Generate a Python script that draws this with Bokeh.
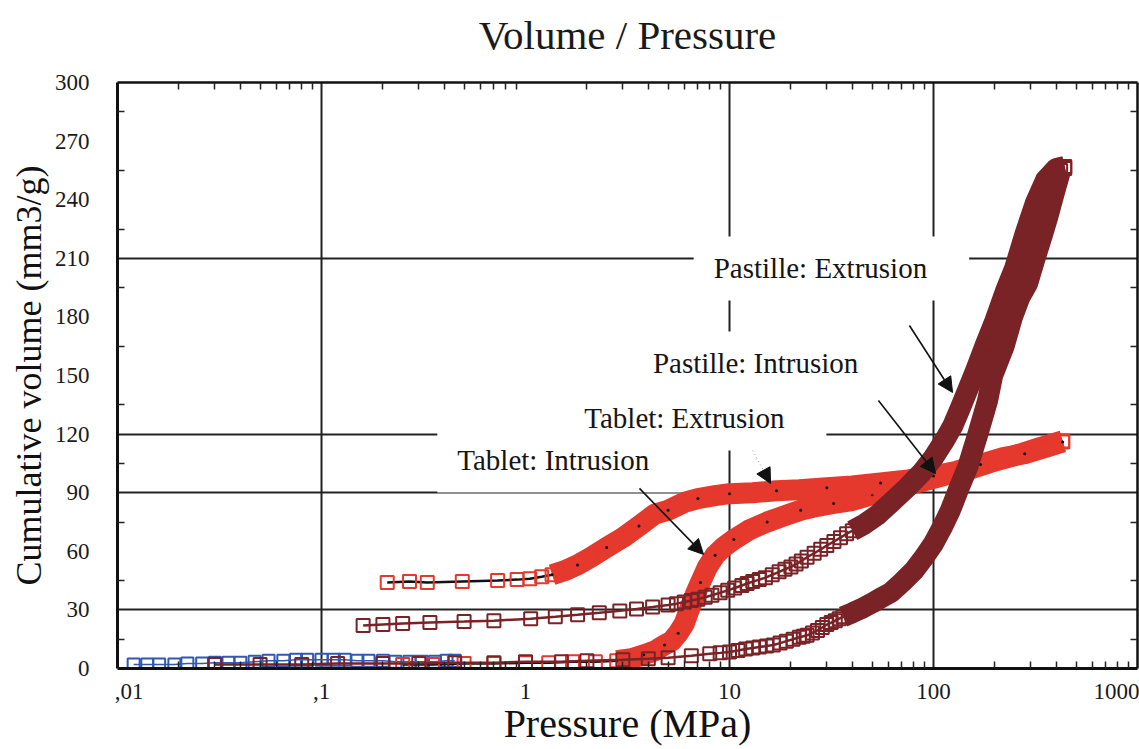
from bokeh.plotting import figure
from bokeh.models import LogAxis, LinearAxis, FixedTicker, Label, Arrow, NormalHead, Range1d
from bokeh.embed import file_html
from bokeh.resources import INLINE

SERIF = "Liberation Serif"

# ---- Mercury porosimetry data: pressure (MPa) / cumulative volume (mm3/g) ----
# low-pressure run
low_p = [0.012, 0.014, 0.016, 0.019, 0.022, 0.026, 0.03, 0.035, 0.04, 0.047, 0.055,
         0.065, 0.075, 0.085, 0.1, 0.115, 0.13, 0.15, 0.17, 0.2, 0.23, 0.27, 0.31,
         0.36, 0.41, 0.45]
low_v = [2, 2, 2, 2, 2.5, 2.5, 3, 3, 3, 3.5, 4, 4, 4.5, 4.5, 4.5, 4.5, 4.5, 4, 4,
         4, 3.5, 3.5, 3.5, 3.5, 4, 4]

# Tablet: intrusion
tab_in_p = [0.25, 0.35, 0.5, 0.7, 1.0, 1.3, 1.7, 2.2, 2.8, 3.3, 3.8, 4.3, 4.8, 5.2,
            5.6, 6.0, 6.4, 6.8, 7.2, 7.8, 8.5, 9.3, 10.5, 12.5, 15.3, 19, 22.3, 27,
            32.4, 40, 50, 62, 75, 90, 110, 140, 190, 250, 330, 430]
tab_in_v = [2, 2, 2.5, 2.5, 3, 3, 3.5, 3.5, 4, 5, 7, 9, 12, 14, 18, 23, 31, 38, 44,
            52, 58, 62, 66, 71, 75, 78.5, 81, 83, 84.5, 86, 89, 92, 94, 96, 98.5,
            101, 105.5, 109, 113, 116.5]

# Tablet: extrusion
tab_ex_p = [0.21, 0.27, 0.33, 0.49, 0.73, 0.91, 1.05, 1.2, 1.35, 1.55, 1.8, 2.1, 2.5,
            3.0, 3.6, 4.3, 5.0, 6.0, 7.0, 8.5, 10, 13, 17, 22, 30, 40, 55, 75, 100,
            130, 170, 220, 280, 350, 430]
tab_ex_v = [44, 44.5, 44, 44.5, 45, 45.5, 46, 47, 48, 50, 53, 57, 62, 67, 73, 79, 81,
            85, 87, 88.5, 89.5, 90, 91, 91.5, 92.5, 93.5, 95, 96.5, 98.5, 101, 104.5,
            108, 110, 113, 116]

# Pastille: intrusion
pas_in_p = [0.03, 0.05, 0.08, 0.12, 0.2, 0.3, 0.45, 0.7, 1.0, 1.5, 2.0, 3.0, 4.0, 5.0,
            6.5, 8.0, 9.0, 10, 11, 12, 13, 14, 15.2, 16.4, 17.7, 19, 20.5, 22, 23, 24,
            25.5, 27, 28.5, 30, 31.5, 33, 34.5, 36, 40, 45, 50, 55, 62, 70, 80, 90,
            100, 110, 121, 133, 147, 165, 184, 195, 222, 244, 265, 289, 315, 342, 363,
            390, 420, 440]
pas_in_v = [2, 2, 2, 2.5, 2.5, 2.5, 3, 3, 3.5, 3.5, 4, 4.5, 5, 5.5, 6.5, 7.5, 8, 8.5,
            9.2, 10, 10.5, 11, 11.5, 12, 13, 14, 15, 16, 16.5, 17, 18.2, 19.5, 21,
            22.5, 23.5, 24.5, 25.5, 26.5, 28.5, 31, 33.5, 36, 39, 44, 50, 57, 64, 72,
            81, 92, 103, 120, 137, 150, 165, 180, 190, 197, 210, 222, 231, 243, 255,
            256]

# Pastille: extrusion
pas_ex_p = [0.16, 0.2, 0.25, 0.34, 0.5, 0.7, 1.06, 1.4, 1.8, 2.3, 2.9, 3.5, 4.2, 5,
            5.5, 6, 6.5, 7, 7.6, 8.2, 9, 9.8, 10.6, 11.5, 12.2, 13, 14, 15, 16.2,
            17.5, 18.7, 20, 21.2, 22.5, 24, 26, 28, 30, 32.5, 35, 37.5, 40, 46, 53,
            62, 74, 87, 100, 112, 124, 135, 145, 160, 180, 200, 225, 250, 282, 315,
            354, 400, 440]
pas_ex_v = [22, 22.5, 23, 23.5, 24, 24.5, 25.5, 26.5, 27.5, 28.5, 29.5, 30.5, 31.5,
            32.5, 33.2, 34, 34.8, 35.5, 36.5, 37.5, 38.8, 40, 41.2, 42.5, 43.5, 44.5,
            45.5, 46.5, 48, 49.5, 50.8, 52, 53.5, 55, 57, 59, 61, 63, 65, 67, 69,
            70.5, 74, 78.5, 85, 92.5, 100, 108, 116, 124, 133, 141, 152, 166, 178,
            193, 205, 223, 238, 250, 256, 257]

# ---- axes ----
x_ticks = [0.01, 0.1, 1, 10, 100, 1000]
x_tick_labels = [",01", ",1", "1", "10", "100", "1000"]
x_minor = [m * d for d in [0.01, 0.1, 1, 10, 100] for m in range(2, 10)]
y_ticks = [0, 30, 60, 90, 120, 150, 180, 210, 240, 270, 300]
y_minor = [15, 45, 75, 105, 135, 165, 195, 225, 255, 285]
grid_x = [0.1, 10, 100]
grid_y = [30, 90, 120, 210]

# ---- callouts: text, text position, arrow start, arrow end ----
callouts = [
    ("Pastille: Extrusion", (31.6, 204.8), (76.2, 175.6), (124.0, 141.3)),
    ("Pastille: Intrusion", (15.2, 156.2), (53.7, 137.2), (102.3, 99.8)),
    ("Tablet: Extrusion", (6.8, 128.0), (13.0, 111.6), (15.9, 94.7)),
    ("Tablet: Intrusion", (1.55, 106.5), (3.62, 92.2), (7.46, 58.4)),
]

RED = "#e5392e"
DARK = "#7a2327"
BLUE = "#3159b3"

p = figure(width=1139, height=749, x_axis_type="log",
           x_range=Range1d(0.01, 1000), y_range=Range1d(0, 300),
           output_backend="svg", toolbar_location=None,
           min_border_left=117, min_border_right=2, min_border_top=82,
           min_border_bottom=81)
p.background_fill_color = "white"
p.border_fill_color = "white"
p.outline_line_color = None
p.title.standoff = 0

# bottom / left axes
xa = p.xaxis[0]
xa.ticker = FixedTicker(ticks=x_ticks, minor_ticks=x_minor)
overrides = dict(zip(x_ticks, x_tick_labels))
overrides[0.01] = "\u00a0" * 4 + overrides[0.01]
xa.major_label_overrides = overrides
xa.axis_label = "Pressure (MPa)"

ya = p.yaxis[0]
ya.ticker = FixedTicker(ticks=y_ticks, minor_ticks=y_minor)
ya.axis_label = "Cumulative volume (mm3/g)"

for ax in (xa, ya):
    ax.axis_line_color = "#111111"
    ax.axis_line_width = 3
    ax.major_tick_in = 0
    ax.major_tick_out = 0
    ax.minor_tick_in = 7
    ax.minor_tick_out = 0
    ax.minor_tick_line_color = "#222222"
    ax.minor_tick_line_width = 1.5
    ax.major_label_text_font = SERIF
    ax.major_label_text_font_size = "23px"
    ax.major_label_text_color = "#1a1a1a"
    ax.axis_label_text_font = SERIF
    ax.axis_label_text_font_style = "normal"
    ax.axis_label_text_color = "#111111"

xa.axis_label_text_font_size = "40px"
xa.major_label_standoff = 10
xa.axis_label_standoff = -6
ya.axis_label_text_font_size = "36px"
ya.major_label_standoff = 28
ya.axis_label_standoff = 3

# top / right frame edges with inner minor ticks only; the top one carries the heading
top = LogAxis(ticker=FixedTicker(ticks=[], minor_ticks=x_minor),
              axis_label="Volume / Pressure")
right = LinearAxis(ticker=FixedTicker(ticks=[], minor_ticks=y_minor))
for ax in (top, right):
    ax.axis_line_color = "#111111"
    ax.axis_line_width = 2.5
    ax.major_tick_in = 0
    ax.major_tick_out = 0
    ax.minor_tick_in = 7
    ax.minor_tick_out = 0
    ax.minor_tick_line_color = "#222222"
    ax.minor_tick_line_width = 1.5
    ax.major_label_text_font_size = "0px"
    ax.major_label_standoff = 0
top.axis_label_text_font = SERIF
top.axis_label_text_font_size = "41px"
top.axis_label_text_font_style = "normal"
top.axis_label_text_color = "#1a1a1a"
top.axis_label_standoff = 25
p.add_layout(top, "above")
p.add_layout(right, "right")

# grid lines only at selected values
p.xgrid.ticker = FixedTicker(ticks=grid_x)
p.ygrid.ticker = FixedTicker(ticks=grid_y)
for g in (p.xgrid[0], p.ygrid[0]):
    g.grid_line_color = "#222222"
    g.grid_line_width = 2
    g.grid_line_alpha = 1

# callout labels with white boxes that mask the grid
for text, (tx, ty), _, _ in callouts:
    p.add_layout(Label(x=tx, y=ty, text=text, text_align="center",
                       text_baseline="middle", text_font=SERIF,
                       text_font_size="29px", text_color="#151515",
                       background_fill_color="white",
                       padding=dict(left=20, right=42, top=16, bottom=16),
                       level="underlay"))


def draw_run(px, vy, color, link_color, band_from, band_width, dots):
    p.line(px, vy, line_color=link_color, line_width=2.5)
    bp = [a for a in px if a >= band_from]
    bv = [b for a, b in zip(px, vy) if a >= band_from]
    p.line(bp, bv, line_color=color, line_width=band_width, line_join="round",
           line_cap="butt")
    p.scatter(px, vy, marker="square", size=13, fill_color=None,
              line_color=color, line_width=2)
    if dots:
        p.scatter(bp[::2], bv[::2], marker="circle", size=3,
                  fill_color="#111111", line_color=None)


# low-pressure run
p.line(low_p, low_v, line_color=BLUE, line_width=1.5)
p.scatter(low_p, low_v, marker="square", size=12, fill_color=None,
          line_color=BLUE, line_width=2)

draw_run(tab_in_p, tab_in_v, RED, "#111111", 2.8, 21, True)
draw_run(tab_ex_p, tab_ex_v, RED, "#111111", 1.3, 21, True)
draw_run(pas_in_p, pas_in_v, DARK, DARK, 36, 21, False)
draw_run(pas_ex_p, pas_ex_v, DARK, DARK, 40, 21, False)

# arrows
for text, _, (x0, y0), (x1, y1) in callouts:
    faint = text == "Tablet: Extrusion"
    p.add_layout(Arrow(x_start=x0, y_start=y0, x_end=x1, y_end=y1,
                       line_color="#999999" if faint else "#111111",
                       line_width=1 if faint else 1.6,
                       line_dash="1 3" if faint else "solid",
                       end=NormalHead(size=15, fill_color="#111111",
                                      line_color="#111111")))

open("out.html", "w").write(file_html(p, INLINE))
